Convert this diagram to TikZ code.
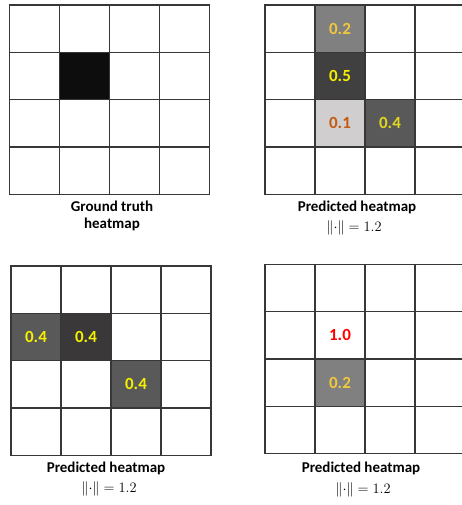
\documentclass[tikz,border=0pt]{standalone}
\usepackage{fontspec}
\setmainfont{Liberation Serif}
\newfontfamily\calib{Carlito}
\definecolor{gridline}{RGB}{55,55,55}
\definecolor{gold}{RGB}{240,200,60}
\definecolor{yel}{RGB}{245,240,0}
\definecolor{yelb}{RGB}{225,215,30}
\definecolor{orng}{RGB}{197,90,17}
\definecolor{cgray}{RGB}{128,128,128}
\definecolor{cdark}{RGB}{64,64,64}
\definecolor{clight}{RGB}{208,206,206}
\definecolor{cmid}{RGB}{89,89,89}
\definecolor{cvdark}{RGB}{58,56,56}
\definecolor{cblack}{RGB}{13,13,13}
\newcommand{\normval}{$\|\mathord{\cdot}\|=1.2$}
\tikzset{
  cell/.style={draw=gridline, line width=1.3pt, minimum width=50pt, minimum height=47.3pt, inner sep=0pt, font=\calib\bfseries\fontsize{17}{17}\selectfont},
  captext/.style={font=\calib\bfseries\fontsize{15}{16.5}\selectfont, align=center, inner sep=0pt},
  normtext/.style={font=\fontsize{15}{15}\selectfont, inner sep=0pt}
}
\begin{document}
\begin{tikzpicture}[x=1pt,y=-1pt]
\useasboundingbox (0,0) rectangle (462,505);
\fill[white] (0,0) rectangle (462,505);
% grid 1
\foreach \r in {0,...,3}{\foreach \c in {0,...,3}{
  \node[cell] (ga-\r-\c) at ({9.5+25+50*\c},{5+23.65+47.3*\r}) {};}}
\node[cell, fill=cblack] (ga-hot) at (ga-1-1) {};
\node[captext] (capa) at (112,216) {Ground truth\\heatmap};
% grid 2
\foreach \r in {0,...,3}{\foreach \c in {0,...,3}{
  \node[cell] (gb-\r-\c) at ({265+25+50*\c},{5+23.65+47.3*\r}) {};}}
\node[cell, fill=cgray, text=gold] (gb-a) at (gb-0-1) {0.2};
\node[cell, fill=cdark, text=yel] (gb-b) at (gb-1-1) {0.5};
\node[cell, fill=clight, text=orng] (gb-c) at (gb-2-1) {0.1};
\node[cell, fill=cmid, text=yelb] (gb-d) at (gb-2-2) {0.4};
\node[captext] (capb) at (357,207) {Predicted heatmap};
\node[normtext] (normb) at (354,228) {\normval};
% grid 3
\foreach \r in {0,...,3}{\foreach \c in {0,...,3}{
  \node[cell] (gc-\r-\c) at ({11+25+50*\c},{266+23.65+47.3*\r}) {};}}
\node[cell, fill=cmid, text=yel] (gc-a) at (gc-1-0) {0.4};
\node[cell, fill=cvdark, text=yel] (gc-b) at (gc-1-1) {0.4};
\node[cell, fill=cmid, text=yel] (gc-c) at (gc-2-2) {0.4};
\node[captext] (capc) at (106,468) {Predicted heatmap};
\node[normtext] (normc) at (109,489) {\normval};
% grid 4
\foreach \r in {0,...,3}{\foreach \c in {0,...,3}{
  \node[cell] (gd-\r-\c) at ({265+25+50*\c},{264.5+23.65+47.3*\r}) {};}}
\node[cell, text=red] (gd-a) at (gd-1-1) {1.0};
\node[cell, fill=cgray, text=gold] (gd-b) at (gd-2-1) {0.2};
\node[captext] (capd) at (361,468) {Predicted heatmap};
\node[normtext] (normd) at (363,490) {\normval};
\end{tikzpicture}
\end{document}
